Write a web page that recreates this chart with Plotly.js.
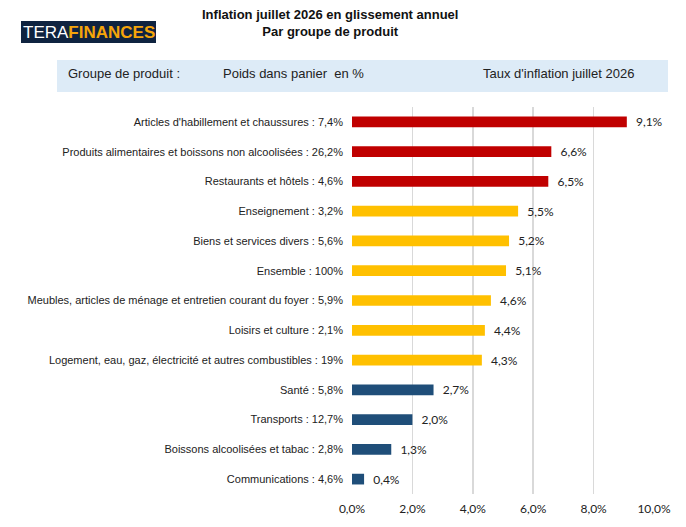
<!DOCTYPE html>
<html>
<head>
<meta charset="utf-8">
<script src="https://cdn.plot.ly/plotly-3.0.1.min.js"></script>
<style>html,body{margin:0;padding:0;background:#fff;}#chart{width:686px;height:527px;}</style>
</head>
<body>
<div id="chart"></div>
<script>
const categories = [
  "Articles d'habillement et chaussures : 7,4%",
  "Produits alimentaires et boissons non alcoolisées : 26,2%",
  "Restaurants et hôtels : 4,6%",
  "Enseignement : 3,2%",
  "Biens et services divers : 5,6%",
  "Ensemble : 100%",
  "Meubles, articles de ménage et entretien courant du foyer : 5,9%",
  "Loisirs et culture : 2,1%",
  "Logement, eau, gaz, électricité et autres combustibles : 19%",
  "Santé : 5,8%",
  "Transports : 12,7%",
  "Boissons alcoolisées et tabac : 2,8%",
  "Communications : 4,6%"
];
const inflation = [9.1, 6.6, 6.5, 5.5, 5.2, 5.1, 4.6, 4.4, 4.3, 2.7, 2.0, 1.3, 0.4];
const groups = ["high","high","high","mid","mid","mid","mid","mid","mid","low","low","low","low"];
const xTicks = [0, 2, 4, 6, 8, 10];
const xTickLabels = ["0,0%", "2,0%", "4,0%", "6,0%", "8,0%", "10,0%"];
const titleLines = ["Inflation juillet 2026 en glissement annuel", "Par groupe de produit"];
const headerLabels = ["Groupe de produit :", "Poids dans panier  en %", "Taux d'inflation juillet 2026"];

const groupColors = {high: "#C00000", mid: "#FFC000", low: "#1F4E79"};
const W = 686, H = 527;
const L = 352, R = 654, T = 107, B = 494;
const px = p => (p - L) / (R - L);
const py = p => (B - p) / (B - T);

const trace = {
  type: "bar",
  orientation: "h",
  y: categories,
  x: inflation,
  marker: {color: groups.map(g => groupColors[g])},
  width: 0.36,
  texttemplate: "\u00a0\u00a0%{x:.1f}%",
  textposition: "outside",
  constraintext: "none",
  cliponaxis: false,
  textfont: {family: "Lato, 'Noto Sans', sans-serif", size: 12, color: "#222"},
  hoverinfo: "skip"
};

const layout = {
  width: W, height: H,
  margin: {l: L, r: W - R, t: T, b: H - B, pad: 0},
  paper_bgcolor: "#fff", plot_bgcolor: "#fff",
  separators: ",.",
  showlegend: false,
  font: {family: "'Liberation Sans', Arial, sans-serif", color: "#222"},
  xaxis: {
    range: [0, 10], tickmode: "array", tickvals: xTicks, ticktext: xTickLabels,
    showgrid: true, gridcolor: "#d9d9d9", gridwidth: 1.5, zeroline: false,
    showline: false, ticks: "", ticklabelstandoff: 6,
    tickfont: {family: "Lato, 'Noto Sans', sans-serif", size: 12, color: "#222"}
  },
  yaxis: {
    type: "category", categoryorder: "array", categoryarray: categories,
    autorange: "reversed", showgrid: false, zeroline: false, showline: false,
    ticks: "", ticklabelstandoff: 8,
    tickfont: {family: "'Liberation Sans', Arial, sans-serif", size: 11, color: "#222"}
  },
  shapes: [
    {type: "rect", xref: "paper", yref: "paper", x0: px(21), x1: px(156), y0: py(43), y1: py(21),
     fillcolor: "#0F2340", line: {width: 0}, layer: "above"},
    {type: "rect", xref: "paper", yref: "paper", x0: px(57), x1: px(668), y0: py(92), y1: py(60),
     fillcolor: "#DDEBF7", line: {width: 0}, layer: "below"}
  ],
  annotations: [
    {xref: "paper", yref: "paper", x: px(330), y: py(23), text: "<b>" + titleLines[0] + "</b><br><b>" + titleLines[1] + "</b>",
     showarrow: false, xanchor: "center", yanchor: "middle", align: "center",
     font: {family: "'Liberation Sans', Arial, sans-serif", size: 13, color: "#111"}},
    {xref: "paper", yref: "paper", x: px(89), y: py(32), text: "TERA<b><span style='color:#F5A50A'>FINANCES</span></b>",
     showarrow: false, xanchor: "center", yanchor: "middle",
     font: {family: "'Liberation Sans Narrow', 'Liberation Sans', Arial, sans-serif", size: 17, color: "#ffffff"}},
    {xref: "paper", yref: "paper", x: px(66), y: py(73), text: headerLabels[0],
     showarrow: false, xanchor: "left", yanchor: "middle",
     font: {family: "'Liberation Sans', Arial, sans-serif", size: 13, color: "#222"}},
    {xref: "paper", yref: "paper", x: px(221), y: py(73), text: headerLabels[1],
     showarrow: false, xanchor: "left", yanchor: "middle",
     font: {family: "'Liberation Sans', Arial, sans-serif", size: 13, color: "#222"}},
    {xref: "paper", yref: "paper", x: px(636), y: py(73), text: headerLabels[2],
     showarrow: false, xanchor: "right", yanchor: "middle",
     font: {family: "'Liberation Sans', Arial, sans-serif", size: 13, color: "#222"}}
  ]
};

Plotly.newPlot("chart", [trace], layout, {displayModeBar: false, staticPlot: true});
</script>
</body>
</html>
